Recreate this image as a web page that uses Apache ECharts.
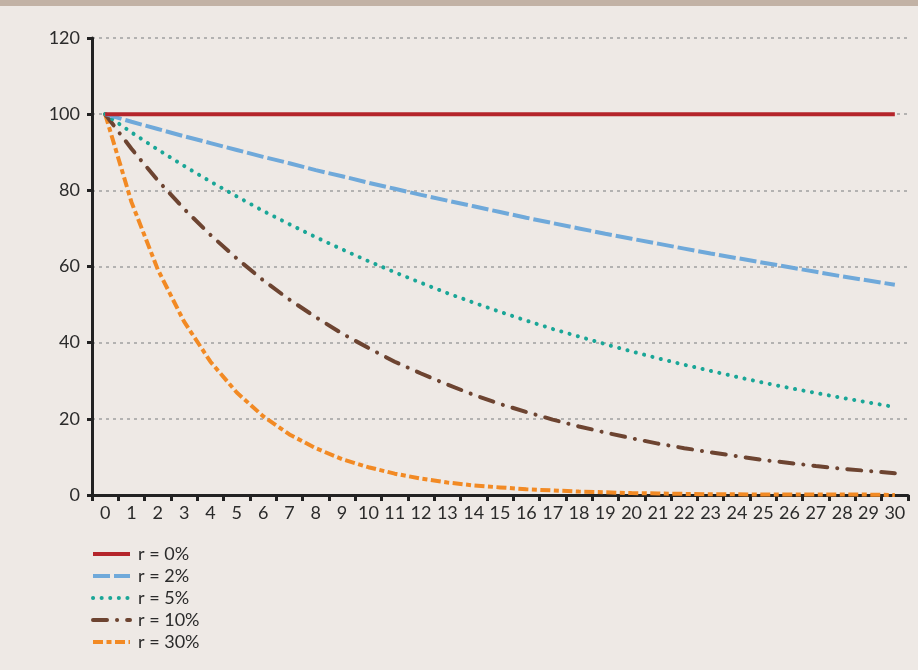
<!DOCTYPE html>
<html><head><meta charset="utf-8">
<script src="https://cdn.jsdelivr.net/npm/echarts@6/dist/echarts.min.js"></script>
<style>
html,body{margin:0;padding:0;background:#eee9e5;}
#bar{position:absolute;left:0;top:0;width:918px;height:6px;background:#c2b2a5;}
#c{position:absolute;left:0;top:0;width:918px;height:670px;}
</style></head>
<body><div id="c"></div><div id="bar"></div>
<script>
const years = ['0','1','2','3','4','5','6','7','8','9','10','11','12','13','14','15','16','17','18','19','20','21','22','23','24','25','26','27','28','29','30'];
const seriesNames = ['r = 0%','r = 2%','r = 5%','r = 10%','r = 30%'];
const r0 = [100,100,100,100,100,100,100,100,100,100,100,100,100,100,100,100,100,100,100,100,100,100,100,100,100,100,100,100,100,100,100];
const r2 = [100,98.0,96.1,94.2,92.4,90.6,88.8,87.1,85.3,83.7,82.0,80.4,78.8,77.3,75.8,74.3,72.8,71.4,70.0,68.6,67.3,66.0,64.7,63.4,62.2,61.0,59.8,58.6,57.4,56.3,55.2];
const r5 = [100,95.2,90.7,86.4,82.3,78.4,74.6,71.1,67.7,64.5,61.4,58.5,55.7,53.0,50.5,48.1,45.8,43.6,41.6,39.6,37.7,35.9,34.2,32.6,31.0,29.5,28.1,26.8,25.5,24.3,23.1];
const r10 = [100,90.9,82.6,75.1,68.3,62.1,56.4,51.3,46.7,42.4,38.6,35.0,31.9,29.0,26.3,23.9,21.8,19.8,18.0,16.4,14.9,13.5,12.3,11.2,10.2,9.2,8.4,7.6,6.9,6.3,5.7];
const r30 = [100,76.9,59.2,45.5,35.0,26.9,20.7,15.9,12.3,9.4,7.3,5.6,4.3,3.3,2.5,2.0,1.5,1.2,0.9,0.7,0.5,0.4,0.3,0.2,0.2,0.1,0.1,0.1,0.1,0.1,0.0];
const yTicks = [0,20,40,60,80,100,120];

const colors = ['#b5252b','#6fa9da','#1aa697','#6d4431','#f28a24'];
const dashes = ['solid',[17,4],[0.1,8.5],[14,10,0.1,10],[10,3.5,5,3.5]];
const caps = ['butt','butt','round','round','butt'];
const dataSets = [r0,r2,r5,r10,r30];

const chart = echarts.init(document.getElementById('c'));
chart.setOption({
  backgroundColor:'#eee9e5',
  animation:false,
  textStyle:{fontFamily:'Lato'},
  grid:{left:92,right:10,top:38,bottom:175,containLabel:false},
  legend:{
    orient:'vertical', left:86, top:540, itemWidth:37, itemHeight:14, itemGap:4,
    textStyle:{fontSize:18,color:'#2b2b2b',fontFamily:'Lato',padding:[0,0,0,3]},
    itemStyle:{opacity:0},
    lineStyle:{width:4},
    data:seriesNames
  },
  xAxis:{
    type:'category', data:years, boundaryGap:true,
    axisLine:{lineStyle:{color:'#222',width:3}},
    axisTick:{show:true,alignWithLabel:false,length:6,lineStyle:{color:'#222',width:3}},
    axisLabel:{color:'#2b2b2b',fontSize:18,margin:9,interval:0}
  },
  yAxis:{
    type:'value', min:0, max:120, interval:20,
    axisLine:{show:true,lineStyle:{color:'#222',width:3}},
    axisTick:{show:true,length:5,lineStyle:{color:'#222',width:3}},
    axisLabel:{color:'#2b2b2b',fontSize:18,margin:12},
    splitLine:{show:true,lineStyle:{color:'#a0a0a0',type:[3,4],width:1.5}}
  },
  series:dataSets.map((d,i)=>({
    name:seriesNames[i], type:'line', data:d, symbol:'none', smooth:false,
    z: 10-i,
    lineStyle:{color:colors[i],width:4,type:dashes[i],cap:caps[i]},
    itemStyle:{color:colors[i]}
  }))
});
</script></body></html>
